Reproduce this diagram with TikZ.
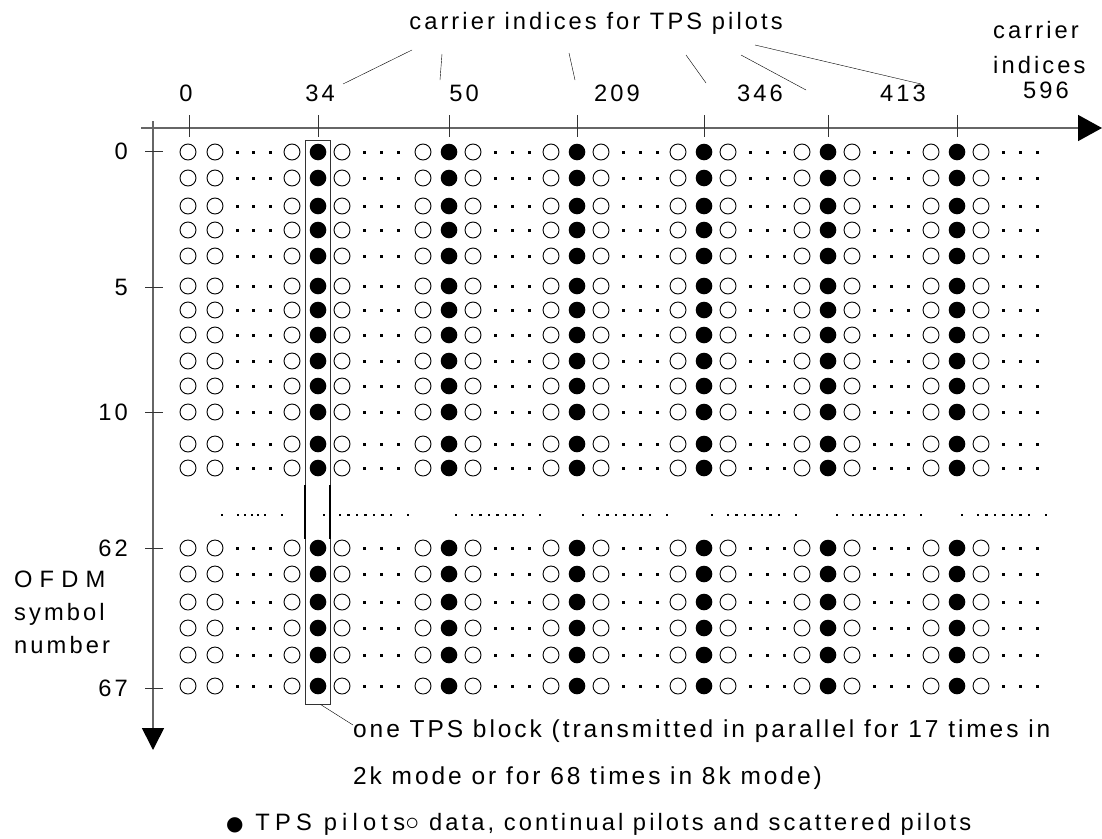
\documentclass[tikz,border=0pt]{standalone}
\usepackage{fontspec}
\setmainfont{Liberation Sans}
\newfontfamily\lsfont[LetterSpace=13]{Liberation Sans}
\newfontfamily\wsfont[LetterSpace=30]{Liberation Sans}
\newfontfamily\msfont[LetterSpace=22]{Liberation Sans}
\newfontfamily\bsfont[LetterSpace=12]{Liberation Sans}
\newfontfamily\dvfont{DejaVu Sans}
\usetikzlibrary{arrows.meta}
\newcommand{\bigtxt}{\fontsize{23.7}{28}\selectfont}

\begin{document}
\begin{tikzpicture}[x=1pt,y=-1pt,
	wc/.style={draw=black,line width=0.9pt,fill=white},
	ax/.style={draw=black!60,line width=1.6pt},
	tk/.style={draw=black!80,line width=1pt},
	lbl/.style={inner sep=0pt,font=\lsfont\bigtxt}]
		\useasboundingbox (0,0) rectangle (1102,838);
		% axes
		\draw[ax,-{Triangle[length=24pt,width=26pt,black]}] (141,128) -- (1102,128);
		\draw[ax,-{Triangle[length=22pt,width=22pt,black]}] (153,121) -- (153,750);
		\foreach \t in {189,318,449,577,704,828,957} \draw[tk] (\t,115) -- (\t,137);
		\foreach \t in {151,287,412,548,688} \draw[tk] (145,\t) -- (163,\t);
		% carriers
		\foreach \y in {152,178,206,230,256,286,310,335,361,386,412,444,468,548,574,602,628,655,686} {
			\draw[wc] (188,\y) circle (8pt);
			\draw[wc] (215,\y) circle (8pt);
			\draw[wc] (292,\y) circle (8pt);
			\foreach \d in {237,253,270} \fill (\d-1.5,\y-1.5) rectangle ++(3,3);
			\foreach \b in {318,449,577,704,828,957} {
				\fill (\b,\y) circle (8.3pt);
				\draw[wc] (\b+24,\y) circle (8pt);
				\foreach \d in {46,63,80} \fill (\b+\d-1.5,\y-1.5) rectangle ++(3,3);
			}
			\foreach \b in {449,577,704,828,957} \draw[wc] (\b-26,\y) circle (8pt);
		}
		% skipped symbols
		\foreach \d in {222,238,245,252,258,265,282} \fill (\d-1.3,513.7) rectangle ++(2.6,2.6);
		\foreach \s in {324,456,583,712,837,962}
			\foreach \d in {0,16,24.5,33,41.5,50,58.5,67,84} \fill (\s+\d-1.3,513.7) rectangle ++(2.6,2.6);
		% one TPS block
		\node[draw=black!80,line width=0.9pt,inner sep=0pt,minimum width=25pt,minimum height=564pt] (blk) at (317.5,422) {};
		\draw[line width=2pt] (305,485) -- (305,539) (330,485) -- (330,539);
		% labels
		\node[lbl] (title) at (596,23) {carrier indices for TPS pilots};
		\node[lbl,anchor=base west] (cr) at (993,38) {carrier};
		\node[lbl,anchor=base west] (ind) at (993,73) {indices};
		\node[lbl,anchor=base] (c0) at (186,101) {0};
		\node[lbl,anchor=base] (c34) at (320,101) {34};
		\node[lbl,anchor=base] (c50) at (464,101) {50};
		\node[lbl,anchor=base] (c209) at (617,101) {209};
		\node[lbl,anchor=base] (c346) at (760,101) {346};
		\node[lbl,anchor=base] (c413) at (903,101) {413};
		\node[lbl,anchor=base] (c596) at (1046,98) {596};
		\node[lbl,anchor=east] (r0) at (128,151) {0};
		\node[lbl,anchor=east] (r5) at (128,287) {5};
		\node[lbl,anchor=east] (r10) at (128,412) {10};
		\node[lbl,anchor=east] (r62) at (128,548) {62};
		\node[lbl,anchor=east] (r67) at (128,688) {67};
		\node[lbl,anchor=base west,font=\wsfont\bigtxt] (ofdm) at (14,587) {OFDM};
		\node[lbl,anchor=base west] (sym) at (14,620) {symbol};
		\node[lbl,anchor=base west] (num) at (14,653) {number};
		\node[lbl,anchor=base west,font=\bsfont\fontsize{24.5}{28}\selectfont] (blk1) at (353,737) {one TPS block (transmitted in parallel for 17 times in};
		\node[lbl,anchor=base west,font=\bsfont\fontsize{24.5}{28}\selectfont] (blk2) at (353,784) {2k mode or for 68 times in 8k mode)};
		\node[lbl,anchor=base west] (leg) at (226,830) {{\dvfont\fontsize{20}{24}\selectfont ●}{\msfont{} TPS pilots}○ data, continual pilots and scattered pilots};
		% leaders
		\coordinate (a1) at (412,50); \coordinate (b1) at (343,84);
		\coordinate (a2) at (442,54); \coordinate (b2) at (440,80);
		\coordinate (a3) at (569,53); \coordinate (b3) at (575,80);
		\coordinate (a4) at (686,55); \coordinate (b4) at (706,83);
		\coordinate (a5) at (741,55); \coordinate (b5) at (806,90);
		\coordinate (a6) at (755,45); \coordinate (b6) at (921,84);
		\coordinate (bt) at (353,725);
		\draw (a1) -- (b1);
		\draw (a2) -- (b2);
		\draw (a3) -- (b3);
		\draw (a4) -- (b4);
		\draw (a5) -- (b5);
		\draw (a6) -- (b6);
		\draw ([xshift=3pt]blk.south) -- (bt);
\end{tikzpicture}
\end{document}
